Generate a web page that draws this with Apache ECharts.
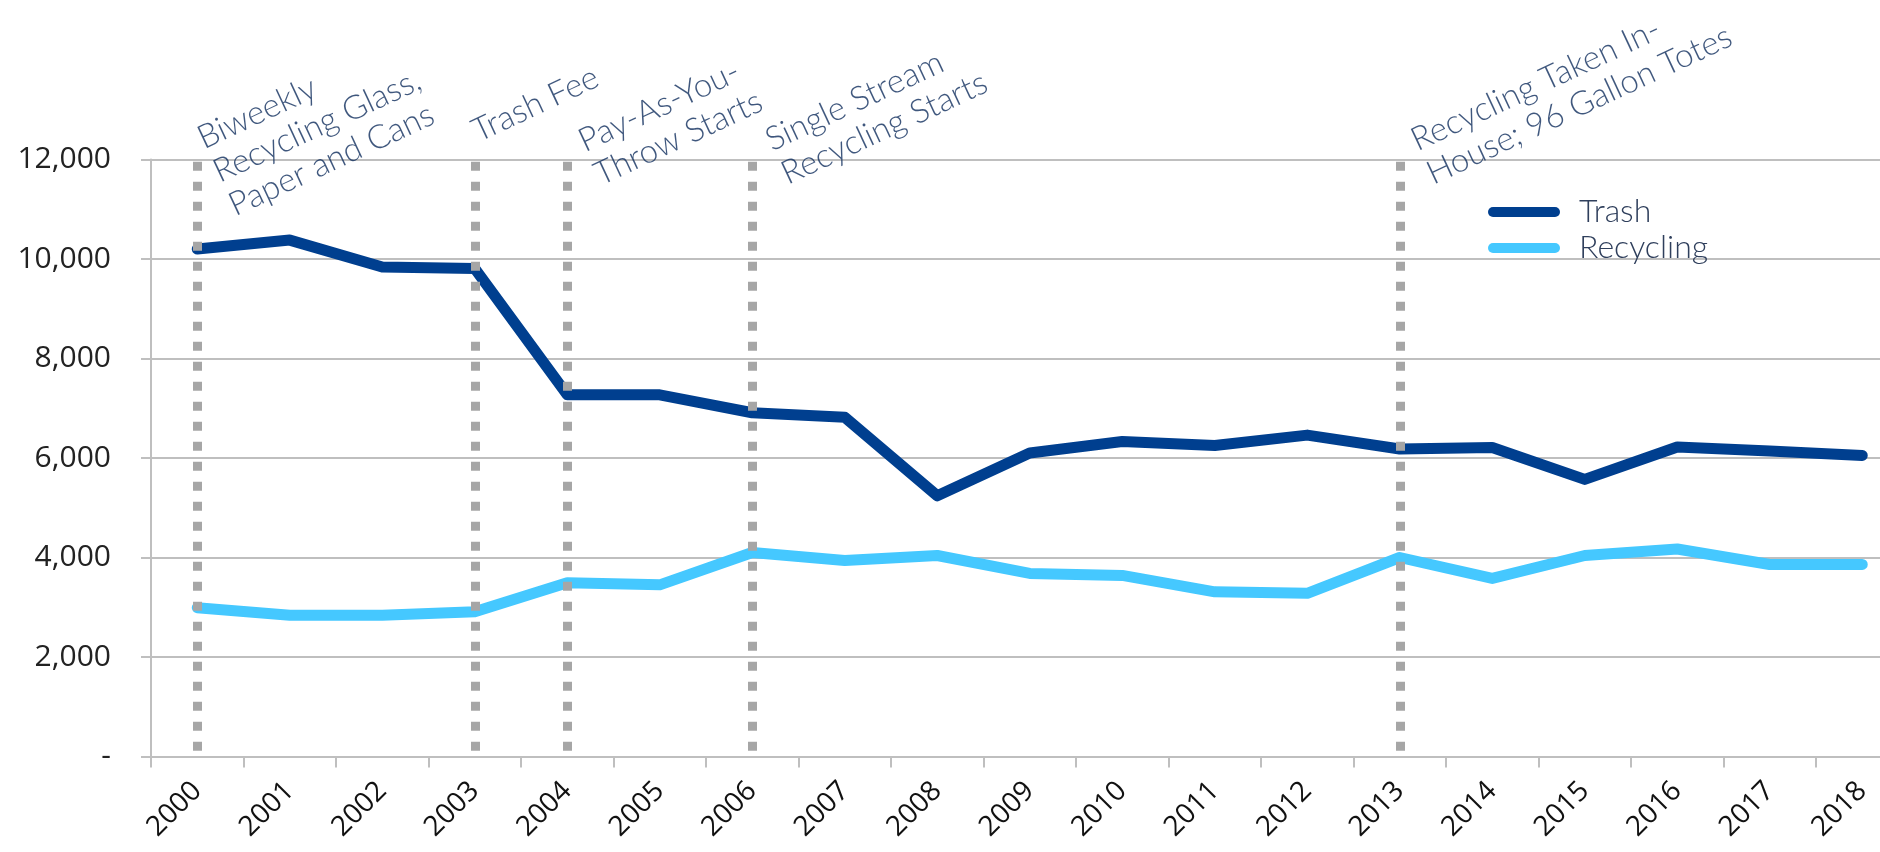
<!DOCTYPE html>
<html>
<head>
<meta charset="utf-8">
<script src="https://cdn.jsdelivr.net/npm/echarts@6/dist/echarts.min.js"></script>
<style>
html,body{margin:0;padding:0;background:#ffffff;}
#chart{width:1880px;height:852px;}
</style>
</head>
<body>
<div id="chart"></div>
<script>
const years = ['2000','2001','2002','2003','2004','2005','2006','2007','2008','2009','2010','2011','2012','2013','2014','2015','2016','2017','2018'];
const trash = [10200,10380,9840,9810,7270,7270,6910,6820,5240,6100,6330,6250,6460,6180,6210,5570,6220,6140,6050];
const recycling = [2990,2840,2840,2910,3490,3450,4100,3940,4040,3680,3640,3310,3280,4000,3580,4040,4170,3860,3860];
const yTickLabels = ['-','2,000','4,000','6,000','8,000','10,000','12,000'];
const eventYears = ['2000','2003','2004','2006','2013'];
const eventLabels = ['Biweekly\nRecycling Glass,\nPaper and Cans','Trash Fee','Pay-As-You-\nThrow Starts','Single Stream\nRecycling Starts','Recycling Taken In-\nHouse; 96 Gallon Totes'];

const chart = echarts.init(document.getElementById('chart'), null, {renderer:'canvas'});
const gridGray = '#bfbfbf';
const option = {
  animation:false,
  backgroundColor:'#ffffff',
  grid:{left:151, width:1757.5, top:159.5, bottom:95.5, containLabel:false, outerBoundsMode:'none'},
  legend:{
    orient:'vertical', left:1483, top:191,
    itemWidth:72, itemHeight:10, itemGap:4,
    icon:'path://M5,0 L67,0 A5,5 0 0 1 67,10 L5,10 A5,5 0 0 1 5,0 Z',
    textStyle:{fontFamily:'Lato', fontSize:32, fontWeight:300, color:'#2f3f5c', padding:[0,0,0,14]},
    data:['Trash','Recycling']
  },
  xAxis:{
    type:'category', data:years, boundaryGap:true,
    axisLine:{lineStyle:{color:gridGray, width:2}},
    axisTick:{show:true, length:11, lineStyle:{color:gridGray, width:2}},
    axisLabel:{rotate:45, margin:30, fontFamily:'Open Sans', fontSize:28, color:'#111111', interval:0}
  },
  yAxis:{
    type:'value', min:0, max:12000, interval:2000,
    axisLine:{show:true, lineStyle:{color:gridGray, width:2}},
    axisTick:{show:true, length:10, lineStyle:{color:gridGray, width:2}},
    splitLine:{show:true, lineStyle:{color:gridGray, width:2}},
    axisLabel:{margin:40, fontFamily:'Open Sans', fontSize:30, color:'#222222',
      formatter:function(v){return yTickLabels[Math.round(v/2000)];}}
  },
  series:[
    {name:'Trash', type:'line', data:trash, showSymbol:false, symbol:'none',
     lineStyle:{color:'#003f8f', width:11, cap:'round', join:'round'},
     itemStyle:{color:'#003f8f'}, z:2},
    {name:'Recycling', type:'line', data:recycling, showSymbol:false, symbol:'none',
     lineStyle:{color:'#45c8ff', width:11, cap:'round', join:'round'},
     itemStyle:{color:'#45c8ff'}, z:2},
    {name:'Events', type:'scatter', z:5, silent:true,
     symbolSize:1, itemStyle:{color:'rgba(0,0,0,0)'},
     data:[
       {value:[eventYears[0],12000], label:{formatter:eventLabels[0], position:[-5,-36]}},
       {value:[eventYears[1],12000], label:{formatter:eventLabels[1], position:[-8,-43]}},
       {value:[eventYears[2],12000], label:{formatter:eventLabels[2], position:[6,-33]}},
       {value:[eventYears[3],12000], label:{formatter:eventLabels[3], position:[8,-34]}},
       {value:[eventYears[4],12000], label:{formatter:eventLabels[4], position:[6,-34]}}
     ],
     label:{show:true, rotate:25, align:'left', verticalAlign:'top',
       fontFamily:'Lato', fontWeight:300, fontSize:33, lineHeight:37, color:'#0f2d5c'},
     markLine:{
       silent:true, symbol:['none','none'],
       label:{show:false},
       lineStyle:{color:'#a6a6a6', width:9, type:[9,11], cap:'butt'},
       data:eventYears.map(function(y){return [{coord:[y,11955]},{coord:[y,100]}];})
     }
    }
  ]
};
chart.setOption(option);
</script>
</body>
</html>
